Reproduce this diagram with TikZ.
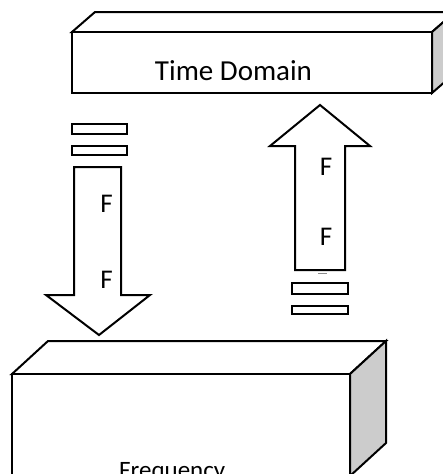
\documentclass[tikz,border=0pt]{standalone}
\usepackage{fontspec}
\setmainfont{Carlito}
\begin{document}
\begin{tikzpicture}[x=1pt,y=-1pt,
  outline/.style={draw=black,line width=2pt,line join=miter},
  sideface/.style={outline,fill=black!20},
  frontface/.style={outline,fill=white},
  bar/.style={draw=black,line width=1.8pt,fill=white},
  label/.style={inner sep=0pt,anchor=base,text=black}]
\useasboundingbox (0,0) rectangle (443,474);
\clip (0,0) rectangle (443,474);

% Time domain block (front face, top face, shaded side)
\coordinate (tfa) at (72,32);  \coordinate (tfb) at (432,32);
\coordinate (tfc) at (432,93); \coordinate (tfd) at (72,93);
\draw[frontface] (tfa) -- ++(23,-20) -- ++(360,0) -- (tfb) -- cycle;
\draw[sideface] (tfb) -- ++(23,-20) -- ++(0,61) -- (tfc) -- cycle;
\draw[frontface] (tfa) rectangle (tfc);
\node[label,font=\fontsize{29}{34}\selectfont] (time) at (233.5,80) {Time Domain};

% Frequency block
\coordinate (bfa) at (12,374);  \coordinate (bfb) at (350,374);
\coordinate (bfc) at (350,476); \coordinate (bfd) at (12,476);
\draw[frontface] (bfa) -- ++(36,-33) -- ++(338,0) -- (bfb) -- cycle;
\draw[sideface] (bfb) -- ++(36,-33) -- ++(0,102) -- (bfc) -- cycle;
\draw[frontface] (bfa) rectangle (bfc);
\node[label,anchor=base west,font=\fontsize{25}{30}\selectfont] (freq) at (119,478) {Frequency};

% Downward block arrow with equals sign above it
\draw[bar] (72,124) rectangle (127,134);
\draw[bar] (72,146) rectangle (127,155);
\draw[outline,fill=white] (74,167) -- (121,167) -- (121,295) -- (150,295)
  -- (99,335) -- (46,295) -- (74,295) -- cycle;
\node[label,font=\fontsize{27}{32}\selectfont] (fd1) at (106.5,212) {F};
\node[label,font=\fontsize{27}{32}\selectfont] (fd2) at (106.5,288) {F};

% Upward block arrow with equals sign below it
\draw[outline,fill=white] (295,270) -- (295,146) -- (270,146) -- (320,105)
  -- (370,146) -- (345,146) -- (345,270) -- cycle;
\draw[black!45,line width=1pt] (318,273) -- (327,273);
\draw[bar] (292,283) rectangle (348,294);
\draw[bar] (292,306) rectangle (348,314);
\node[label,font=\fontsize{27}{32}\selectfont] (fu1) at (326,175) {F};
\node[label,font=\fontsize{27}{32}\selectfont] (fu2) at (326,245) {F};
\end{tikzpicture}
\end{document}
